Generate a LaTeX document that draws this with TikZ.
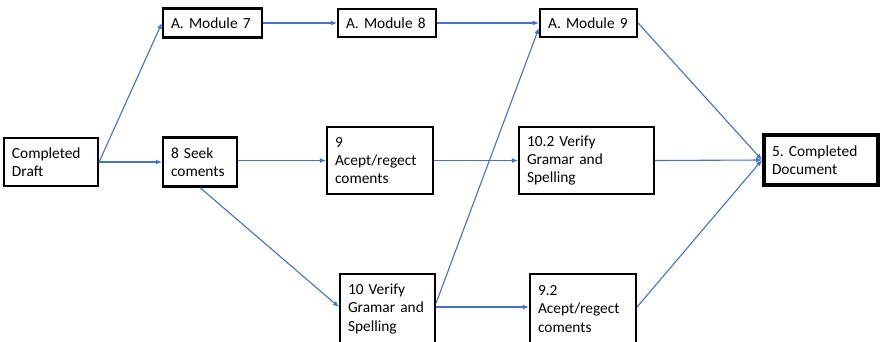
\documentclass[tikz,border=0pt]{standalone}
\usepackage{fontspec}
\setmainfont{Carlito}
\usetikzlibrary{arrows.meta,calc}
\definecolor{linkblue}{HTML}{4472C4}
\frenchspacing
\tikzset{
  box/.style={draw=black, line width=2.2pt, inner xsep=8pt, inner ysep=0pt, align=left,
    font=\fontsize{15.4}{18.3}\selectfont, fill=white},
  link/.style={draw=linkblue, line width=1.1pt, -{Latex[length=6pt,width=5pt]}}
}
\begin{document}
\begin{tikzpicture}[x=1pt,y=-1pt]
\fill[white] (0,0) rectangle (885,341);
\useasboundingbox (0,0) rectangle (885,341);
\node[box, text width=78pt, minimum height=48pt] (draft) at (51,162) {Completed\\Draft};
\node[box, text width=83pt, minimum height=29pt] (m7) at (212.5,23) {A. Module 7};
\node[box, text width=58pt, minimum height=49pt] (seek) at (200,162) {8 Seek\\coments};
\node[box, text width=82pt, minimum height=28pt] (m8) at (387,23) {A. Module 8};
\node[box, text width=90pt, minimum height=67pt] (acc9) at (380,160.5) {9\\Acept/regect\\coments};
\node[box, text width=81pt, minimum height=28pt] (m9) at (588.5,23) {A. Module 9};
\node[box, text width=119pt, minimum height=67pt] (ver102) at (586.5,160.5) {10.2 Verify\\Gramar and\\Spelling};
\node[box, line width=4pt, text width=98pt, minimum height=50pt] (doc) at (821,160) {5. Completed\\Document};
\node[box, text width=79pt, minimum height=70pt] (ver10) at (387.5,309) {10 Verify\\Gramar and\\Spelling};
\node[box, text width=90pt, minimum height=70pt] (acc92) at (583,309) {9.2\\Acept/regect\\coments};
\draw[link] (draft.east) -- (m7.west);
\draw[link] (draft.east) -- (seek.west);
\draw[link] (m7.east) -- (m8.west);
\draw[link] (m8.east) -- (m9.west);
\draw[link] (seek.east |- acc9.west) -- (acc9.west);
\draw[link] (seek.south) -- ($(ver10.west)+(0,-2)$);
\draw[link] (acc9.east) -- (ver102.west);
\draw[link] ($(ver10.east)+(0,-6)$) -- ($(m9.west)+(0,5)$);
\draw[link] ($(ver10.east)+(0,-2)$) -- ($(acc92.west)+(0,-2)$);
\draw[link] (m9.east) -- (doc.west);
\draw[link] (ver102.east) -- (doc.west);
\draw[link] ($(acc92.east)+(0,-2)$) -- (doc.west);
\end{tikzpicture}
\end{document}
